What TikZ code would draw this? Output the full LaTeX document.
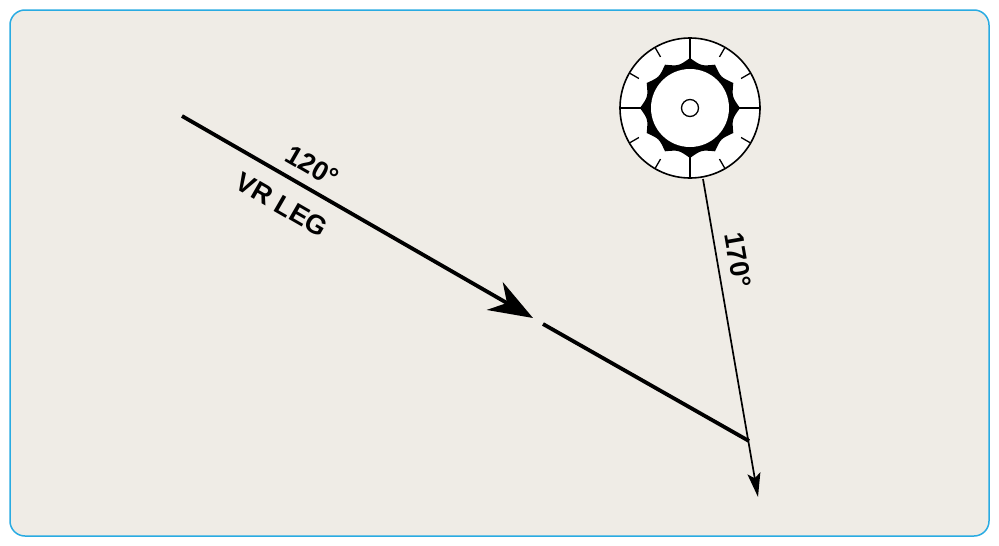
\documentclass[tikz,border=0pt]{standalone}
\usepackage{fontspec}
\setmainfont{Liberation Sans}
\usetikzlibrary{arrows.meta}
\definecolor{bg}{HTML}{EFECE6}
\definecolor{frame}{HTML}{29ABE2}
\tikzset{lbl/.style={font=\bfseries\fontsize{27}{27}\selectfont, inner sep=0pt},
  leg/.style={line width=3.8pt}}
\begin{document}
\begin{tikzpicture}[x=1pt,y=-1pt]
\useasboundingbox (0,0) rectangle (999,546);
\draw[frame, fill=bg, line width=1.5pt, rounded corners=15pt] (10,10) rectangle (989,536);
% VR leg
\coordinate (a) at (182,116);
\coordinate (tip) at (533,318);
\coordinate (b) at (543,324);
\coordinate (c) at (749,441);
\draw[leg, -{Stealth[length=44pt,width=32pt,inset=14pt]}] (a) -- (tip);
\draw[leg] (b) -- (c);
\node[lbl, rotate=-30] (t1) at (312,166) {120°};
\node[lbl, rotate=-30] (t2) at (282,205) {VR LEG};
% VOR
\coordinate (o) at (690,108);
\begin{scope}[shift={(o)}]
\fill[white] (0,0) circle (70);
\fill[black] (0:50) foreach \k in {0,...,11} { .. controls ({\k*30+15}:43.5) .. ({(\k+1)*30}:50) } -- cycle;
\fill[white] (0,0) circle (39);
\draw[line width=1.6pt] (0,0) circle (70);
\foreach \k in {0,90,180,270} \draw[line width=1.4pt] (\k:48) -- (\k:70);
\foreach \k in {30,60,120,150,210,240,300,330} \draw[line width=1.3pt] (\k:59) -- (\k:70);
\draw[line width=1.3pt] (0,0) circle (8.5);
\end{scope}
\coordinate (v) at (703,179);
\coordinate (e) at (758,497);
\draw[line width=1.7pt, -{Stealth[length=24pt,width=13pt,inset=5pt]}] (v) -- (e);
\node[lbl, rotate=-80] (t3) at (738,260) {170°};
\end{tikzpicture}
\end{document}
